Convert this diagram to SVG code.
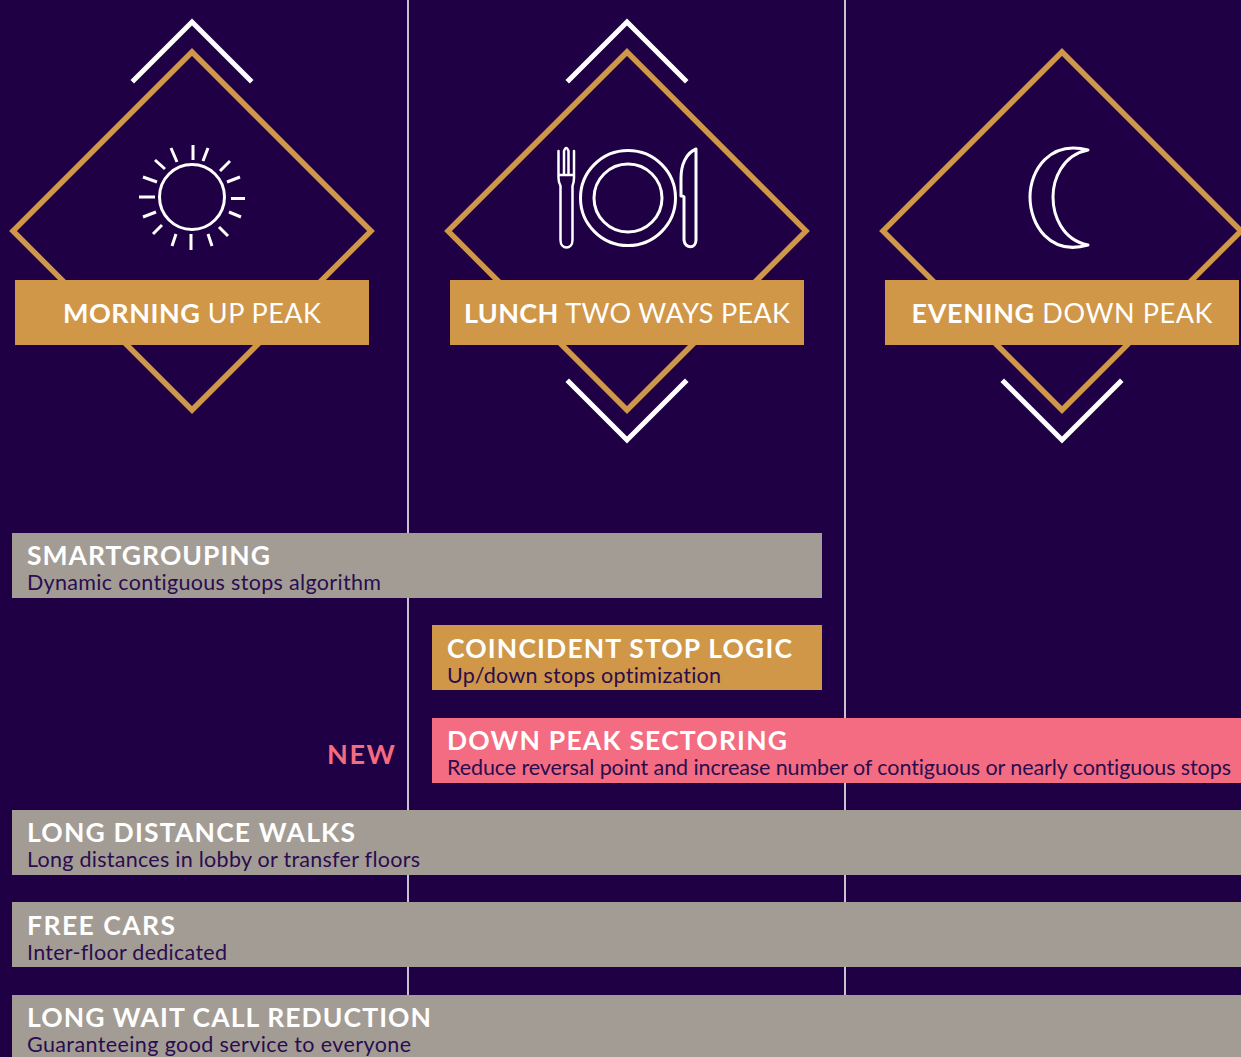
<svg xmlns="http://www.w3.org/2000/svg" width="1241" height="1057" viewBox="0 0 1241 1057">
<style>
text{font-family:"Lato","Liberation Sans",sans-serif;font-variant-ligatures:none}
.d{fill:none;stroke:#d09748;stroke-width:5.5}
.c{fill:none;stroke:#fff;stroke-width:5;stroke-linecap:square}
.i{fill:none;stroke:#fff;stroke-width:3;stroke-linecap:butt;stroke-linejoin:round}
.v{stroke:#c9c3cf;stroke-width:2}
.g{fill:#a39c94}.o{fill:#d09748}.p{fill:#f46c81}
.h{font-size:27px;fill:#fff;text-anchor:middle}
.b{font-weight:700}
.t{font-size:26.5px;font-weight:700;fill:#fff}
.s{font-size:21.5px;font-weight:400;fill:#2a0c50}
</style>
<rect width="1241" height="1057" fill="#1f0044"/>
<g id="dividers">
<line class="v" x1="408" y1="0" x2="408" y2="1057"/>
<line class="v" x1="845" y1="0" x2="845" y2="1057"/>
</g>
<g id="morning">
<path class="d" d="M192 52 371 231 192 410 13 231Z"/>
<path class="c" d="M134 80 192 22 250 80"/>
<g class="i">
<circle cx="192" cy="197" r="32.5"/>
<path d="M193 145V160M191 234V250M139 197H155M231 198.500H245M171 148 177 162M208 148 203 161M155 160 165 169M230 161 220 171M143 177 157 182M240 177 227 182M143 217 156 212M241 217 229 212M153 234 162 225M228 236 219 227M172 246 176 234M208 234 212 246"/>
</g>
<rect class="o" x="15" y="280" width="354" height="65"/>
<text class="h" x="192" y="323" textLength="258" lengthAdjust="spacing"><tspan class="b">MORNING</tspan> UP PEAK</text>
</g>
<g id="lunch">
<path class="d" d="M627 52 806 231 627 410 448 231Z"/>
<path class="c" d="M569 80 627 22 685 80"/>
<path class="c" d="M569 382 627 440 685 382"/>
<g class="i">
<circle cx="628" cy="198" r="47.5"/>
<circle cx="628" cy="198" r="34"/>
<path stroke-width="2.500" stroke-linecap="round" d="M558.500 151V178Q558.500 182 560.500 186V240C560.500 250 572.500 250 572.500 240V186Q574 182 574 178V151M558.500 175H574M564 175V151Q566.200 145 568.500 151V175"/>
<path d="M696 149V240C696 249 685 249 684 240V197C684 196 682 196 681 196V178C681 165 686 153 696 149Z"/>
</g>
<rect class="o" x="450" y="280" width="354" height="65"/>
<text class="h" x="627" y="323" textLength="326" lengthAdjust="spacing"><tspan class="b">LUNCH</tspan> TWO WAYS PEAK</text>
</g>
<g id="evening">
<path class="d" d="M1062 52 1241 231 1062 410 883 231Z"/>
<path class="c" d="M1004 382 1062 440 1120 382"/>
<path class="i" d="M1088 150C1050 140 1030 170 1030 197C1030 225 1050 256 1088 245C1062 240 1053 215 1053 197C1053 180 1062 155 1088 150Z"/>
<rect class="o" x="885" y="280" width="354" height="65"/>
<text class="h" x="1062" y="323" textLength="301" lengthAdjust="spacing"><tspan class="b">EVENING</tspan> DOWN PEAK</text>
</g>
<g id="smartgrouping">
<rect class="g" x="12" y="533" width="810" height="65"/>
<text class="t" x="27" y="565" textLength="243" lengthAdjust="spacing">SMARTGROUPING</text>
<text class="s" x="27" y="590" textLength="354" lengthAdjust="spacing">Dynamic contiguous stops algorithm</text>
</g>
<g id="coincident">
<rect class="o" x="432" y="625" width="390" height="65"/>
<text class="t" x="447" y="658" textLength="345" lengthAdjust="spacing">COINCIDENT STOP LOGIC</text>
<text class="s" x="447" y="683" textLength="274" lengthAdjust="spacing">Up/down stops optimization</text>
</g>
<g id="sectoring">
<text x="327" y="764" textLength="68" lengthAdjust="spacing" font-size="27" font-weight="700" fill="#f46c81">NEW</text>
<rect class="p" x="432" y="718" width="809" height="65"/>
<text class="t" x="447" y="750" textLength="340" lengthAdjust="spacing">DOWN PEAK SECTORING</text>
<text class="s" x="447" y="775" textLength="784" lengthAdjust="spacing">Reduce reversal point and increase number of contiguous or nearly contiguous stops</text>
</g>
<g id="walks">
<rect class="g" x="12" y="810" width="1229" height="65"/>
<text class="t" x="27" y="842" textLength="328" lengthAdjust="spacing">LONG DISTANCE WALKS</text>
<text class="s" x="27" y="867" textLength="393" lengthAdjust="spacing">Long distances in lobby or transfer floors</text>
</g>
<g id="freecars">
<rect class="g" x="12" y="902" width="1229" height="65"/>
<text class="t" x="27" y="935" textLength="148" lengthAdjust="spacing">FREE CARS</text>
<text class="s" x="27" y="960" textLength="200" lengthAdjust="spacing">Inter-floor dedicated</text>
</g>
<g id="longwait">
<rect class="g" x="12" y="995" width="1229" height="62"/>
<text class="t" x="27" y="1027" textLength="404" lengthAdjust="spacing">LONG WAIT CALL REDUCTION</text>
<text class="s" x="27" y="1052" textLength="384" lengthAdjust="spacing">Guaranteeing good service to everyone</text>
</g>
</svg>
